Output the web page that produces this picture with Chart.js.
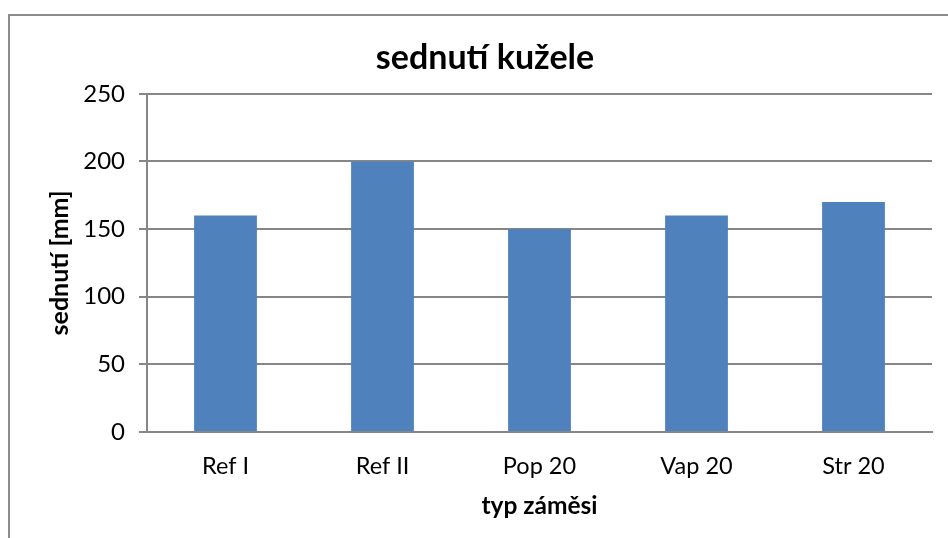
<!DOCTYPE html>
<html>
<head>
<meta charset="utf-8">
<script src="https://cdn.jsdelivr.net/npm/chart.js@4.4.0/dist/chart.umd.min.js"></script>
<style>
  html, body { margin: 0; padding: 0; background: #fff; }
  #wrap { width: 948px; height: 538px; }
</style>
</head>
<body>
<div id="wrap"><canvas id="myChart"></canvas></div>
<script>
// data
const categories = ['Ref I', 'Ref II', 'Pop 20', 'Vap 20', 'Str 20'];
const slumpValues = [160, 200, 150, 160, 170];
const yTicks = [0, 50, 100, 150, 200, 250];

const chartTitle = 'sednutí kužele';
const yTitle = 'sednutí [mm]';
const xTitle = 'typ záměsi';

const gridColor = '#868686';

// outer frame of the chart area (left + top edge visible)
const framePlugin = {
    id: 'frame',
    beforeDraw(chart) {
        const c = chart.ctx;
        c.save();
        c.strokeStyle = '#8c8c8c';
        c.lineWidth = 2;
        c.beginPath();
        c.moveTo(9, chart.height);
        c.lineTo(9, 15);
        c.lineTo(chart.width, 15);
        c.stroke();
        c.restore();
    }
};

const ctx = document.getElementById('myChart').getContext('2d');
const myChart = new Chart(ctx, {
    type: 'bar',
    data: {
        labels: categories,
        datasets: [{
            label: 'sednutí',
            data: slumpValues,
            backgroundColor: '#4f81bd',
            categoryPercentage: 1.0,
            barPercentage: 0.4
        }]
    },
    options: {
        responsive: true,
        maintainAspectRatio: false,
        animation: false,
        // left padding shifts the title centre to where the reference has it
        layout: { padding: { left: 38, right: 16, top: 0, bottom: 0 } },
        plugins: {
            legend: { display: false },
            tooltip: { enabled: false },
            title: {
                display: true,
                text: chartTitle,
                color: '#000',
                font: { family: 'Lato', size: 34, weight: 'bold', lineHeight: 1.2 },
                padding: { top: 38, bottom: 15 }
            }
        },
        scales: {
            x: {
                grid: { display: false, drawTicks: false },
                border: { color: gridColor, width: 2 },
                ticks: {
                    color: '#000',
                    font: { family: 'Lato', size: 23.5 },
                    padding: 20
                },
                title: {
                    display: true,
                    text: xTitle,
                    color: '#000',
                    font: { family: 'Lato', size: 24.5, weight: 'bold', lineHeight: 1.2 },
                    padding: { top: 0, bottom: 17 }
                },
                afterFit(scale) { scale.height = 106; }
            },
            y: {
                min: 0,
                max: 250,
                afterBuildTicks(scale) {
                    scale.ticks = yTicks.map(v => ({ value: v }));
                },
                grid: {
                    color: gridColor,
                    lineWidth: 2,
                    drawTicks: true,
                    tickLength: 8,
                    tickColor: gridColor
                },
                border: { color: gridColor, width: 2 },
                ticks: {
                    color: '#000',
                    font: { family: 'Lato', size: 24 },
                    padding: 14
                },
                title: {
                    display: true,
                    text: yTitle,
                    color: '#000',
                    font: { family: 'Lato', size: 25, weight: 'bold', lineHeight: 1.2 },
                    padding: { top: 7, bottom: 0 }
                },
                afterFit(scale) { scale.width = 109; }
            }
        }
    },
    plugins: [framePlugin]
});
</script>
</body>
</html>
